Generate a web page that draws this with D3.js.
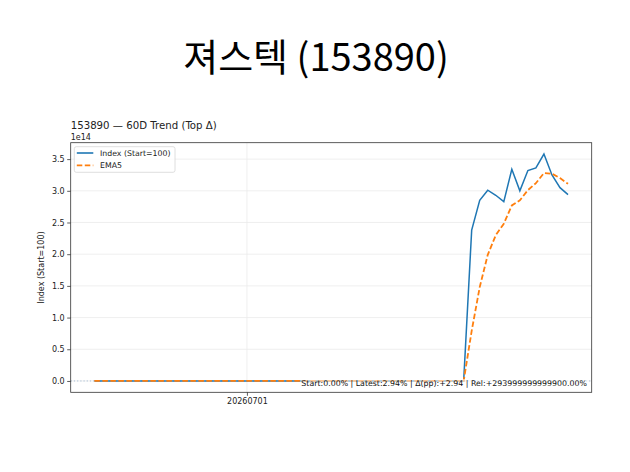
<!DOCTYPE html>
<html>
<head>
<meta charset="utf-8">
<script src="https://cdn.jsdelivr.net/npm/d3@7"></script>
<style>
  body { margin: 0; background: #fff; }
  text { font-family: "DejaVu Sans", sans-serif; fill: #222; }
</style>
</head>
<body>
<svg id="chart"></svg>
<script>
let width = 630, height = 472

// 60 daily points, index values (Start=100)
let indexVals = [
  100, 100, 100, 100, 100, 100, 100, 100, 100, 100,
  100, 100, 100, 100, 100, 100, 100, 100, 100, 100,
  100, 100, 100, 100, 100, 100, 100, 100, 100, 100,
  100, 100, 100, 100, 100, 100, 100, 100, 100, 100,
  100, 100, 100, 100, 100, 100, 100,
  2.38e14, 2.85e14, 3.01e14, 2.93e14, 2.83e14, 3.34e14, 3.00e14,
  3.32e14, 3.36e14, 3.58e14, 3.25e14, 3.05e14, 2.94e14
]
let emaVals = [
  100, 100, 100, 100, 100, 100, 100, 100, 100, 100,
  100, 100, 100, 100, 100, 100, 100, 100, 100, 100,
  100, 100, 100, 100, 100, 100, 100, 100, 100, 100,
  100, 100, 100, 100, 100, 100, 100, 100, 100, 100,
  100, 100, 100, 100, 100, 100, 100,
  0.79e14, 1.48e14, 1.99e14, 2.30e14, 2.48e14, 2.77e14, 2.85e14,
  3.01e14, 3.12e14, 3.28e14, 3.27e14, 3.20e14, 3.11e14
]
let xTickPos = [19]
let xTickLabels = ["20260701"]
let yTicks = [0, 0.5e14, 1e14, 1.5e14, 2e14, 2.5e14, 3e14, 3.5e14]

let title = "져스텍 (153890)"
let subTitle = "153890 — 60D Trend (Top Δ)"
let note = "Start:0.00% | Latest:2.94% | Δ(pp):+2.94 | Rel:+293999999999900.00%"

let margin = {left: 70.7, right: 630 - 591.7, top: 142.7, bottom: 472 - 392.3}

let svg = d3.select("#chart").attr("width", width).attr("height", height)

let n = indexVals.length
let xPad = (n - 1) * 0.05
let x = d3.scaleLinear()
    .domain([-xPad, n - 1 + xPad])
    .range([margin.left, width - margin.right])

let yMax = d3.max(indexVals.concat(emaVals)), yMin = 0
let yPad = (yMax - yMin) * 0.05
let y = d3.scaleLinear()
    .domain([yMin - yPad, yMax + yPad])
    .range([height - margin.bottom, margin.top])

// big title
svg.append("text")
    .attr("x", 316).attr("y", 71)
    .attr("text-anchor", "middle")
    .style("font-family", "'Noto Sans CJK KR', 'Noto Sans', sans-serif")
    .style("font-size", "38px")
    .style("fill", "#000")
    .text(title)

// grid
let grid = svg.append("g")
grid.selectAll(".hg").data(yTicks).enter().append("line")
    .attr("x1", margin.left).attr("x2", width - margin.right)
    .attr("y1", d => y(d)).attr("y2", d => y(d))
    .attr("stroke", "#ebebeb").attr("stroke-width", 0.8)
grid.selectAll(".vg").data(xTickPos).enter().append("line")
    .attr("x1", d => x(d)).attr("x2", d => x(d))
    .attr("y1", margin.top).attr("y2", height - margin.bottom)
    .attr("stroke", "#ebebeb").attr("stroke-width", 0.8)

// zero reference line
svg.append("line")
    .attr("x1", margin.left).attr("x2", width - margin.right)
    .attr("y1", y(0)).attr("y2", y(0))
    .attr("stroke", "#a9bfd6").attr("stroke-width", 1)
    .attr("stroke-dasharray", "1.2,2")

let line = d3.line().x((d, i) => x(i)).y(d => y(d))

svg.append("path")
    .datum(indexVals)
    .attr("d", line)
    .attr("fill", "none")
    .attr("stroke", "#1f77b4")
    .attr("stroke-width", 1.5)

svg.append("path")
    .datum(emaVals)
    .attr("d", line)
    .attr("fill", "none")
    .attr("stroke", "#ff7f0e")
    .attr("stroke-width", 1.8)
    .attr("stroke-dasharray", "5.5,2.5")

// axes
let yAxis = d3.axisLeft(y).tickValues(yTicks)
    .tickFormat(d => (d / 1e14).toFixed(1)).tickSize(3.5).tickPadding(2.5)
let gy = svg.append("g").attr("transform", `translate(${margin.left},0)`).call(yAxis)

let xAxis = d3.axisBottom(x).tickValues(xTickPos)
    .tickFormat((d, i) => xTickLabels[i]).tickSize(3.5).tickPadding(2.5)
let gx = svg.append("g").attr("transform", `translate(0,${height - margin.bottom})`).call(xAxis)

;[gx, gy].forEach(g => {
    g.select(".domain").remove()
    g.selectAll("line").attr("stroke", "#333").attr("stroke-width", 0.8)
    g.selectAll("text").style("font-size", "8px").style("fill", "#222")
        .style("font-family", "'DejaVu Sans', sans-serif")
})

// frame
svg.append("rect")
    .attr("x", margin.left).attr("y", margin.top)
    .attr("width", width - margin.left - margin.right)
    .attr("height", height - margin.top - margin.bottom)
    .attr("fill", "none").attr("stroke", "#333").attr("stroke-width", 0.8)

// offset text and titles
svg.append("text").attr("x", margin.left).attr("y", 140)
    .style("font-size", "8px").text("1e14")
svg.append("text").attr("x", margin.left).attr("y", 129.3)
    .style("font-size", "10.2px").text(subTitle)
svg.append("text")
    .attr("transform", `translate(44,${(margin.top + height - margin.bottom) / 2}) rotate(-90)`)
    .attr("text-anchor", "middle")
    .style("font-size", "8px").text("Index (Start=100)")

// note
let noteG = svg.append("g")
let noteText = noteG.append("text")
    .attr("x", 587).attr("y", 386)
    .attr("text-anchor", "end")
    .style("font-size", "7.85px").style("fill", "#111")
    .text(note)
let bb = noteText.node().getBBox()
noteG.insert("rect", "text")
    .attr("x", bb.x - 1).attr("y", bb.y)
    .attr("width", bb.width + 2).attr("height", bb.height)
    .attr("fill", "#fff").attr("opacity", 0.55)

// legend
let legend = svg.append("g").attr("transform", "translate(74.3,146.7)")
legend.append("rect")
    .attr("width", 100.7).attr("height", 25.6).attr("rx", 2)
    .attr("fill", "#fff").attr("fill-opacity", 0.8)
    .attr("stroke", "#d5d5d5").attr("stroke-width", 0.8)
let items = [
    {label: "Index (Start=100)", color: "#1f77b4", dash: null},
    {label: "EMA5", color: "#ff7f0e", dash: "5.5,2.5"}
]
items.forEach((it, i) => {
    let yy = 6.3 + i * 12.4
    legend.append("line")
        .attr("x1", 2.5).attr("x2", 19).attr("y1", yy).attr("y2", yy)
        .attr("stroke", it.color).attr("stroke-width", 1.6)
        .attr("stroke-dasharray", it.dash)
    legend.append("text").attr("x", 25.7).attr("y", yy + 2.8)
        .style("font-size", "7.8px").text(it.label)
})
</script>
</body>
</html>
